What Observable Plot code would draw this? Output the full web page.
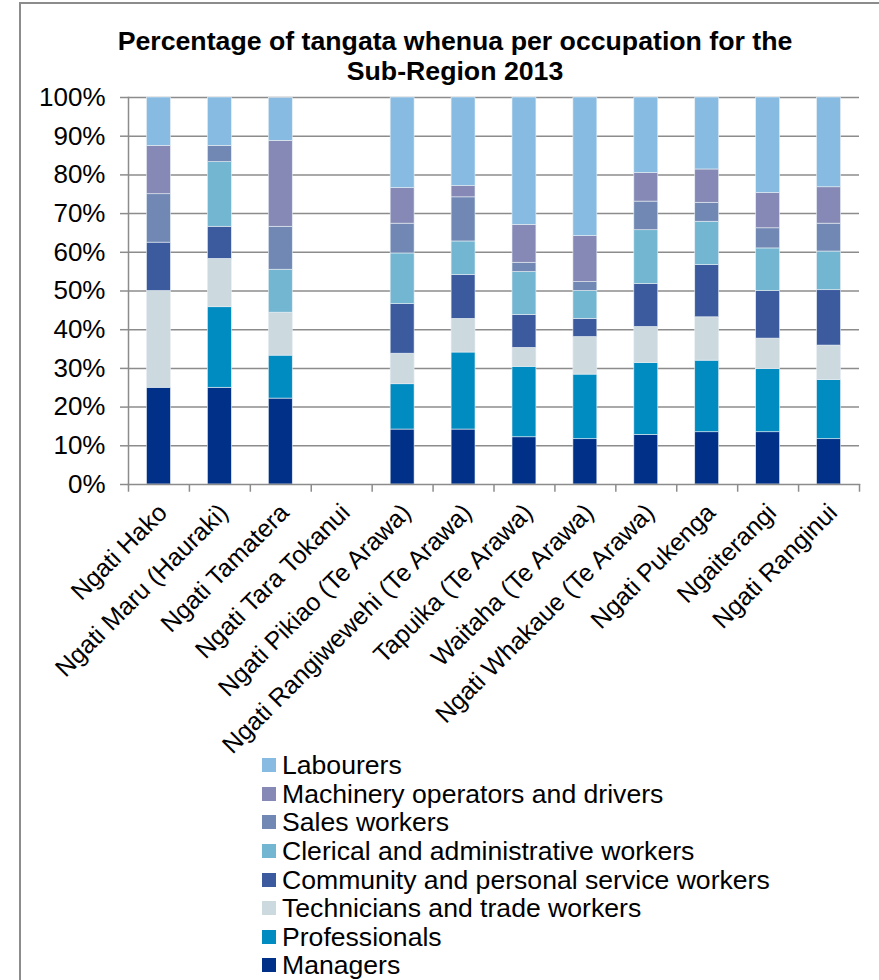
<!DOCTYPE html>
<html><head><meta charset="utf-8">
<script src="https://cdn.jsdelivr.net/npm/d3@7"></script>
<script src="https://cdn.jsdelivr.net/npm/@observablehq/plot@0.6"></script>
<style>
body{margin:0;background:#fff;font-family:Arial,"Liberation Sans",sans-serif;}
#wrap{position:relative;width:879px;height:980px;overflow:hidden;background:#fff;}
#border{position:absolute;left:19px;top:2px;width:900px;height:1000px;border-left:2px solid #8c8c8c;border-top:2px solid #8c8c8c;}
#title{position:absolute;left:20px;width:870px;top:26px;text-align:center;font-weight:bold;font-size:26.7px;line-height:30px;color:#000;}
#chart{position:absolute;left:0;top:0;}
#legend{position:absolute;left:262px;top:751px;font-size:26.6px;line-height:28px;color:#000;}
.item{height:28.6px;display:flex;align-items:center;white-space:nowrap;}
.sw{width:14px;height:14px;margin-right:6px;flex:none;}
</style>
</head><body>
<div id="wrap">
<div id="border"></div>
<div id="chart"></div>
<div id="title">Percentage of tangata whenua per occupation for the<br>Sub-Region 2013</div>
<div id="legend"></div>
</div>
<script>
const categories = ["Ngati Hako","Ngati Maru (Hauraki)","Ngati Tamatera","Ngati Tara Tokanui","Ngati Pikiao (Te Arawa)","Ngati Rangiwewehi (Te Arawa)","Tapuika (Te Arawa)","Waitaha (Te Arawa)","Ngati Whakaue (Te Arawa)","Ngati Pukenga","Ngaiterangi","Ngati Ranginui"];

// bottom-to-top stacking order
const occupations = ["Managers","Professionals","Technicians and trade workers","Community and personal service workers","Clerical and administrative workers","Sales workers","Machinery operators and drivers","Labourers"];
const colors = ["#003087","#008bc1","#ccdae0","#3b5b9e","#73b6d1","#7088b3","#8689b5","#87bbe1"];

const managers      = [25, 25, 22.2, 0, 14.2, 14.2, 12.2, 11.7, 12.8, 13.5, 13.5, 11.7];
const professionals = [0, 20.8, 11.1, 0, 11.7, 19.9, 18.2, 16.7, 18.6, 18.5, 16.3, 15.3];
const technicians   = [25, 12.5, 11.1, 0, 7.9, 8.7, 4.9, 9.7, 9.3, 11.2, 7.9, 8.9];
const community     = [12.5, 8.3, 0, 0, 12.8, 11.3, 8.5, 4.7, 11.1, 13.5, 12.3, 14.3];
const clerical      = [0, 16.7, 11.1, 0, 13.1, 8.7, 11.1, 7.2, 13.9, 11.2, 11.0, 10.0];
const sales         = [12.5, 4.2, 11.1, 0, 7.7, 11.4, 2.4, 2.3, 7.4, 4.9, 5.2, 7.2];
const machinery     = [12.5, 0, 22.2, 0, 9.2, 2.9, 9.8, 11.9, 7.4, 8.6, 9.1, 9.4];
const labourers     = [12.5, 12.5, 11.1, 0, 23.4, 22.9, 32.9, 35.8, 19.5, 18.6, 24.7, 23.2];

const yTicks = [0,10,20,30,40,50,60,70,80,90,100];
const legendOrder = ["Labourers","Machinery operators and drivers","Sales workers","Clerical and administrative workers","Community and personal service workers","Technicians and trade workers","Professionals","Managers"];

const series = [managers, professionals, technicians, community, clerical, sales, machinery, labourers];
const rows = [];
series.forEach((vals, si) => vals.forEach((v, ci) => rows.push({group: categories[ci], occupation: occupations[si], value: v})));

const grid = "#8c8c8c";
const chart = Plot.plot({
  width: 879, height: 760,
  marginTop: 97, marginBottom: 276, marginLeft: 128, marginRight: 20,
  style: {fontFamily: "Arial, 'Liberation Sans', sans-serif", fontSize: "26px", color: "#000", background: "transparent", overflow: "visible"},
  x: {domain: categories, padding: 0, round: false, label: null},
  y: {domain: [0, 100], label: null},
  color: {domain: occupations, range: colors},
  marks: [
    Plot.ruleY(yTicks.slice(1), {stroke: grid, strokeWidth: 1.5}),
    Plot.barY(rows.filter(d => d.value > 0), {x: "group", y: "value", fill: "occupation", order: occupations, insetLeft: 18.5, insetRight: 18.5, stroke: "#e8eef3", strokeWidth: 0.6}),
    Plot.frame({anchor: "left", stroke: grid, strokeWidth: 1.5}),
    Plot.frame({anchor: "bottom", stroke: grid, strokeWidth: 1.5}),
    Plot.ruleX(categories, {x: d => d, y1: 0, y2: -2, dx: -30.46, stroke: grid, strokeWidth: 1.5}),
    Plot.ruleX(categories.slice(-1), {x: d => d, y1: 0, y2: -2, dx: 30.46, stroke: grid, strokeWidth: 1.5}),
    Plot.axisY({ticks: yTicks, tickFormat: d => d + "%", tickSize: 8, tickPadding: 15, stroke: grid, strokeWidth: 1.5, fill: "#000", label: null}),
    Plot.axisX({tickSize: 0, tickRotate: -45, tickPadding: 24, dx: 4, fontSize: 25, fill: "#000", label: null})
  ]
});
document.getElementById("chart").appendChild(chart);

const leg = document.getElementById("legend");
legendOrder.forEach(name => {
  const it = document.createElement("div"); it.className = "item";
  const sw = document.createElement("span"); sw.className = "sw";
  sw.style.background = colors[occupations.indexOf(name)];
  const tx = document.createElement("span"); tx.textContent = name;
  it.appendChild(sw); it.appendChild(tx); leg.appendChild(it);
});
</script>
</body></html>
